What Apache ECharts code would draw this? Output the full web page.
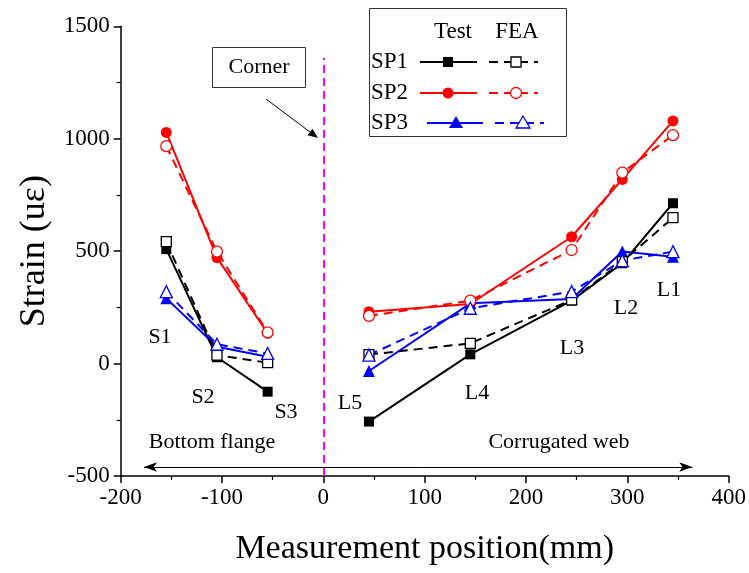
<!DOCTYPE html>
<html>
<head>
<meta charset="utf-8">
<script src="https://cdn.jsdelivr.net/npm/echarts@6/dist/echarts.min.js"></script>
<style>
  html, body { margin: 0; padding: 0; background: #fff; }
  #chart { width: 749px; height: 573px; }
</style>
</head>
<body>
<div id="chart"></div>
<script>
// Measurement positions (mm)
const flangePos = [-155, -105, -55];
const webPos = [45, 145, 245, 295, 345];

// Strain readings (uε), bottom flange S1..S3
const sp1TestFlange = [509, 28, -125];
const sp1FeaFlange  = [542, 38, 4];
const sp2TestFlange = [1028, 471, 135];
const sp2FeaFlange  = [967, 498, 139];
const sp3TestFlange = [290, 75, 30];
const sp3FeaFlange  = [320, 86, 45];

// Strain readings (uε), corrugated web L5..L1
const sp1TestWeb = [-258, 41, 280, 446, 713];
const sp1FeaWeb  = [40, 90, 283, 453, 649];
const sp2TestWeb = [231, 265, 564, 819, 1079];
const sp2FeaWeb  = [212, 280, 505, 849, 1016];
const sp3TestWeb = [-33, 268, 287, 498, 475];
const sp3FeaWeb  = [38, 246, 320, 458, 498];

const yTicks = [-500, 0, 500, 1000, 1500];
const xTicks = [-200, -100, 0, 100, 200, 300, 400];

const FONT = '"Liberation Serif", "Times New Roman", serif';
const BLACK = '#000000', RED = '#ff0000', BLUE = '#0000ff';

function pairs(xs, ys) { return xs.map((x, i) => [x, ys[i]]); }

function testSeries(name, color, symbol, size, xs, ys) {
  return {
    name, type: 'line', data: pairs(xs, ys),
    symbol, symbolSize: size, showSymbol: true,
    lineStyle: { color, width: 2, type: 'solid' },
    itemStyle: { color, borderColor: color, borderWidth: 0 },
    animation: false, z: 3
  };
}
function feaSeries(name, color, symbol, size, xs, ys) {
  return {
    name, type: 'line', data: pairs(xs, ys),
    symbol, symbolSize: size, showSymbol: true,
    lineStyle: { color, width: 2, type: [9, 6] },
    itemStyle: { color: '#ffffff', borderColor: color, borderWidth: 1.3 },
    animation: false, z: 4
  };
}

const series = [
  testSeries('SP1 Test', BLACK, 'rect', 10, flangePos, sp1TestFlange),
  testSeries('SP1 Test', BLACK, 'rect', 10, webPos, sp1TestWeb),
  feaSeries('SP1 FEA', BLACK, 'rect', 10, flangePos, sp1FeaFlange),
  feaSeries('SP1 FEA', BLACK, 'rect', 10, webPos, sp1FeaWeb),
  testSeries('SP2 Test', RED, 'circle', 11, flangePos, sp2TestFlange),
  testSeries('SP2 Test', RED, 'circle', 11, webPos, sp2TestWeb),
  feaSeries('SP2 FEA', RED, 'circle', 11, flangePos, sp2FeaFlange),
  feaSeries('SP2 FEA', RED, 'circle', 11, webPos, sp2FeaWeb),
  testSeries('SP3 Test', BLUE, 'triangle', 12, flangePos, sp3TestFlange),
  testSeries('SP3 Test', BLUE, 'triangle', 12, webPos, sp3TestWeb),
  feaSeries('SP3 FEA', BLUE, 'triangle', 12, flangePos, sp3FeaFlange),
  feaSeries('SP3 FEA', BLUE, 'triangle', 12, webPos, sp3FeaWeb),
  {
    // corner line and the flange / web span arrow
    name: 'guides', type: 'line', data: [], animation: false, silent: true,
    markLine: {
      silent: true, animation: false,
      label: { show: false },
      data: [
        [
          { coord: [0, -500], symbol: 'none', lineStyle: { color: '#ff00ff', width: 2, type: [8, 5] } },
          { coord: [0, 1360], symbol: 'none' }
        ],
        [
          { coord: [-177, -460], symbol: 'arrow', symbolSize: [7, 13], lineStyle: { color: '#000', width: 1, type: 'solid' } },
          { coord: [364, -460], symbol: 'arrow', symbolSize: [7, 13] }
        ]
      ]
    }
  }
];

// annotation text
function label(text, x, y, size) {
  return { type: 'text', x, y, style: { text, font: (size || 22) + 'px ' + FONT, fill: '#000', textAlign: 'center', textVerticalAlign: 'middle' }, z: 10 };
}

// legend block
const LG = { left: 369, top: 8, w: 197, h: 128 };
function legLine(x1, x2, y, color, dashed) {
  return { type: 'line', shape: { x1, y1: y, x2, y2: y }, style: { stroke: color, lineWidth: 2, lineDash: dashed ? [9, 6] : null }, z: 11 };
}
function legMarker(kind, cx, cy, color, filled) {
  const fill = filled ? color : '#ffffff';
  const style = { fill, stroke: color, lineWidth: filled ? 0 : 1.3 };
  if (kind === 'rect') return { type: 'rect', shape: { x: cx - 5, y: cy - 5, width: 10, height: 10 }, style, z: 12 };
  if (kind === 'circle') return { type: 'circle', shape: { cx, cy, r: 5.5 }, style, z: 12 };
  return { type: 'polygon', shape: { points: [[cx, cy - 7], [cx + 7, cy + 5], [cx - 7, cy + 5]] }, style, z: 12 };
}
const legendRows = [
  { name: 'SP1', color: BLACK, kind: 'rect', y: 62, s: [420, 477, 448], d: [489, 538, 516] },
  { name: 'SP2', color: RED, kind: 'circle', y: 93, s: [420, 477, 448], d: [489, 538, 516] },
  { name: 'SP3', color: BLUE, kind: 'triangle', y: 123, s: [427, 483, 456], d: [495, 544, 523] }
];
const legendGraphics = [
  { type: 'rect', shape: { x: LG.left + 0.5, y: LG.top + 0.5, width: LG.w, height: LG.h }, style: { fill: '#fff', stroke: '#333', lineWidth: 1 }, z: 10 },
  label('Test', 453, 32, 23),
  label('FEA', 517, 32, 23)
];
legendRows.forEach(r => {
  legendGraphics.push({ type: 'text', x: 371, y: r.y, style: { text: r.name, font: '23px ' + FONT, fill: '#000', textAlign: 'left', textVerticalAlign: 'middle' }, z: 11 });
  legendGraphics.push(legLine(r.s[0], r.s[1], r.y, r.color, false));
  legendGraphics.push(legMarker(r.kind, r.s[2], r.y, r.color, true));
  legendGraphics.push(legLine(r.d[0], r.d[1], r.y, r.color, true));
  legendGraphics.push(legMarker(r.kind, r.d[2], r.y, r.color, false));
});

const cornerGraphics = [
  { type: 'rect', shape: { x: 212.5, y: 47.5, width: 93, height: 40 }, style: { fill: '#fff', stroke: '#333', lineWidth: 1 }, z: 10 },
  label('Corner', 259, 67, 22),
  { type: 'line', shape: { x1: 266, y1: 99, x2: 312, y2: 133.5 }, style: { stroke: '#000', lineWidth: 1 }, z: 10 },
  { type: 'polygon', shape: { points: [[318, 138], [307.6, 135.2], [312.4, 128.8]] }, style: { fill: '#000' }, z: 10 }
];

const textGraphics = [
  label('S1', 160, 337), label('S2', 203, 397), label('S3', 286, 412),
  label('L5', 350, 403), label('L4', 477, 393), label('L3', 572, 348),
  label('L2', 626, 308), label('L1', 669, 290),
  label('Bottom flange', 212, 442), label('Corrugated web', 559, 442)
];

const chart = echarts.init(document.getElementById('chart'), null, { renderer: 'canvas' });
chart.setOption({
  backgroundColor: '#ffffff',
  animation: false,
  grid: { left: 120.7, right: 20.3, top: 26.3, bottom: 97, containLabel: false },
  xAxis: {
    type: 'value', min: xTicks[0], max: xTicks[xTicks.length - 1], interval: 100,
    name: 'Measurement position(mm)', nameLocation: 'middle', nameGap: 56,
    nameTextStyle: { fontFamily: FONT, fontSize: 34, color: '#000' },
    axisLine: { show: true, onZero: false, lineStyle: { color: '#000', width: 1.5 } },
    axisTick: { show: true, inside: false, length: 7, lineStyle: { color: '#000', width: 1.5 } },
    minorTick: { show: true, splitNumber: 2, length: 4, lineStyle: { color: '#000', width: 1.2 } },
    axisLabel: { fontFamily: FONT, fontSize: 23, color: '#000', margin: 10, formatter: v => String(v) },
    splitLine: { show: false }
  },
  yAxis: {
    type: 'value', min: yTicks[0], max: yTicks[yTicks.length - 1], interval: 500,
    name: 'Strain (uε)', nameLocation: 'middle', nameGap: 51, nameRotate: 90,
    nameTextStyle: { fontFamily: FONT, fontSize: 36, color: '#000' },
    axisLine: { show: true, onZero: false, lineStyle: { color: '#000', width: 1.5 } },
    axisTick: { show: true, inside: false, length: 7, lineStyle: { color: '#000', width: 1.5 } },
    minorTick: { show: true, splitNumber: 2, length: 4, lineStyle: { color: '#000', width: 1.2 } },
    axisLabel: { fontFamily: FONT, fontSize: 23, color: '#000', margin: 11, formatter: v => String(v) },
    splitLine: { show: false }
  },
  series,
  graphic: [].concat(textGraphics, cornerGraphics, legendGraphics)
});
</script>
</body>
</html>
